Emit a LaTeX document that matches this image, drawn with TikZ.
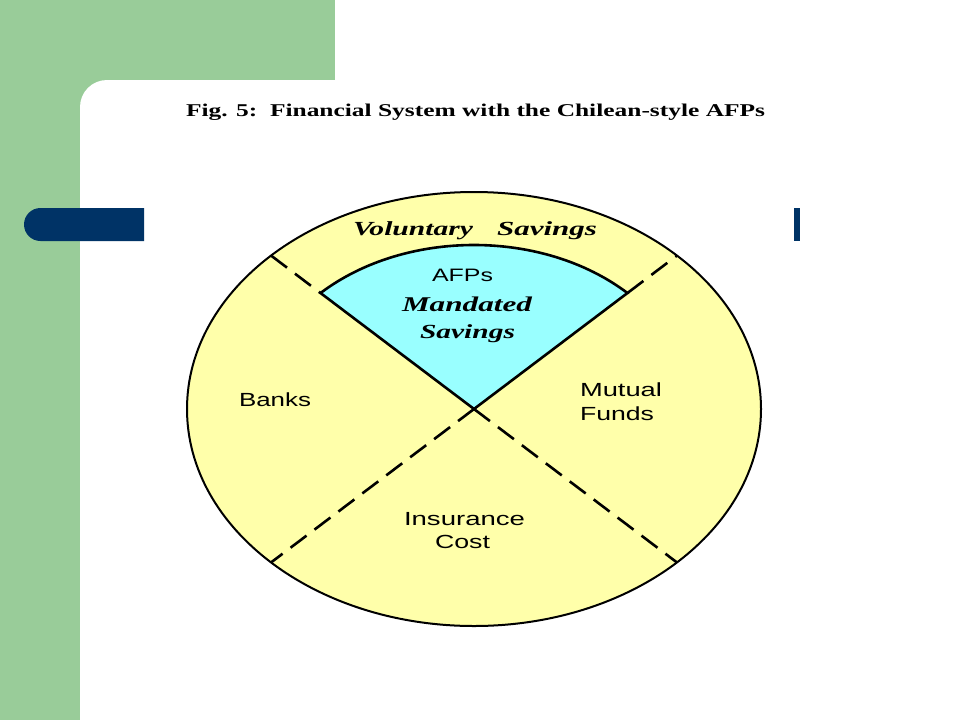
\documentclass[tikz,border=0pt]{standalone}
\usepackage{fontspec}
\setmainfont{Liberation Serif}
\setsansfont{Liberation Sans}
\usepackage{graphicx}
\newcommand{\fitwd}[2]{\resizebox{#1}{\height}{#2}}
\definecolor{slidegreen}{RGB}{153,204,153}
\definecolor{navyblue}{RGB}{0,51,102}
\definecolor{pieyellow}{RGB}{255,255,170}
\definecolor{afpcyan}{RGB}{153,255,255}
\begin{document}
\begin{tikzpicture}[x=1pt,y=-1pt,
  lbl/.style={anchor=base west, inner sep=0pt, outer sep=0pt},
  titlefont/.style={font=\fontsize{18pt}{20pt}\selectfont\bfseries},
  serifbi/.style={font=\fontsize{20pt}{22pt}\selectfont\bfseries\itshape},
  sanslbl/.style={font=\fontsize{19pt}{21pt}\selectfont\sffamily},
  divline/.style={line width=2.6pt},
  dashline/.style={divline, dash pattern=on 20pt off 10pt}]
\useasboundingbox (0,0) rectangle (960,720);
% slide background
\fill[white] (0,0) rectangle (960,720);
\fill[slidegreen] (0,0) rectangle (335,80);
\fill[slidegreen] (0,0) rectangle (80,720);
\fill[slidegreen] (80,80) rectangle (110,110);
\fill[white] (80,720) -- (80,107) arc [start angle=180, end angle=270, radius=27] -- (960,80) -- (960,720) -- cycle;
% navy bars
\fill[navyblue] (144,208) -- (40.5,208) arc [start angle=270, end angle=90, radius=16.5] -- (144,241) -- cycle;
\fill[navyblue] (794,208) rectangle (800,241);
% title
\node[lbl, titlefont] (title) at (186,116) {\fitwd{579pt}{Fig. 5:\ \ Financial System with the Chilean-style AFPs}};
% geometry
\coordinate (O) at (474,409);
\path (O) ++(225:217 and 164) coordinate (A);
\path (O) ++(315:217 and 164) coordinate (B);
\path (O) ++(225:287 and 217) coordinate (UL);
\path (O) ++(315:287 and 217) coordinate (UR);
\path (O) ++(135:287 and 217) coordinate (LL);
\path (O) ++(45:287 and 217) coordinate (LR);
\draw[fill=pieyellow, line width=2pt] (O) ellipse [x radius=287, y radius=217];
\draw[fill=afpcyan, divline] (O) -- (A) arc [start angle=225, end angle=315, x radius=217, y radius=164] -- cycle;
\draw[dashline] (UL) -- (A);
\draw[dashline] (B) -- (UR);
\draw[dashline] (O) -- (LL);
\draw[dashline] (O) -- (LR);
% labels
\node[lbl, serifbi] (vol) at (353,235) {\fitwd{120pt}{Voluntary}};
\node[lbl, serifbi] (volsav) at (497,235) {\fitwd{100pt}{Savings}};
\node[lbl, sanslbl, font=\fontsize{18pt}{20pt}\selectfont\sffamily] (afp) at (432,281) {\fitwd{61pt}{AFPs}};
\node[lbl, serifbi, font=\fontsize{21pt}{23pt}\selectfont\bfseries\itshape] (mand) at (402,311) {\fitwd{130pt}{Mandated}};
\node[lbl, serifbi] (mandsav) at (420,338) {\fitwd{95pt}{Savings}};
\node[lbl, sanslbl] (banks) at (239,406) {\fitwd{72pt}{Banks}};
\node[lbl, sanslbl] (mutual) at (580,396) {\fitwd{82pt}{Mutual}};
\node[lbl, sanslbl] (funds) at (580,420) {\fitwd{74pt}{Funds}};
\node[lbl, sanslbl] (ins) at (404,525) {\fitwd{121pt}{Insurance}};
\node[lbl, sanslbl] (cost) at (435,548) {\fitwd{55pt}{Cost}};
\end{tikzpicture}
\end{document}
